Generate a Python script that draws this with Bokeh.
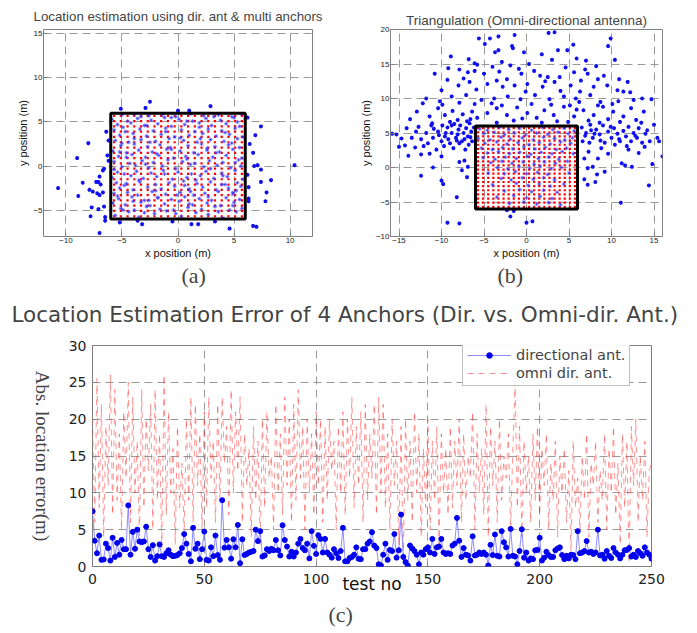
import math
import numpy as np
from bokeh.plotting import figure
from bokeh.layouts import column, row
from bokeh.models import Title, Legend, LegendItem, FixedTicker, Range1d
from bokeh.embed import file_html
from bokeh.resources import INLINE

# ---------------- data ----------------
# true (grid) positions inside the 12 m x 12 m area
grid_vals = [-5.7, -5.1, -4.5, -3.9, -3.3, -2.7, -2.1, -1.5, -0.9, -0.3,
             0.3, 0.9, 1.5, 2.1, 2.7, 3.3, 3.9, 4.5, 5.1, 5.7]
area_x = [-6, 6]
area_y = [-6, 6]

# (a) estimated positions, directional antenna
a_in = [
    (-5.6,-5.6),(-4.4,-5.2),(-3.5,-5.8),(-2.1,-5.4),(-1.0,-5.1),(0.3,-5.7),(1.6,-5.3),(2.7,-5.5),(4.0,-5.9),(5.2,-5.2),
    (-5.1,-4.8),(-3.9,-5.0),(-2.8,-4.6),(-1.6,-4.9),(-0.4,-5.0),(0.9,-4.7),(2.1,-4.9),(3.3,-4.6),(4.6,-5.0),(5.7,-4.8),
    (-5.8,-4.2),(-4.7,-4.4),(-3.3,-4.1),(-2.5,-4.5),(-1.2,-4.3),(0.1,-4.0),(1.3,-4.4),(2.6,-4.2),(3.8,-4.5),(5.0,-4.1),
    (-5.3,-3.7),(-4.1,-3.5),(-3.0,-3.9),(-1.8,-3.6),(-0.6,-3.8),(0.6,-3.5),(1.9,-3.7),(3.0,-3.9),(4.3,-3.6),(5.5,-3.8),
    (-5.7,-3.1),(-4.5,-3.0),(-3.6,-3.3),(-2.3,-2.9),(-1.1,-3.2),(0.2,-3.0),(1.4,-3.3),(2.4,-3.1),(3.6,-2.9),(4.9,-3.2),
    (-5.2,-2.5),(-4.0,-2.7),(-2.7,-2.4),(-1.5,-2.6),(-0.3,-2.3),(1.0,-2.6),(2.2,-2.4),(3.4,-2.7),(4.5,-2.5),(5.6,-2.3),
    (-5.5,-1.9),(-4.6,-2.0),(-3.4,-1.8),(-2.0,-2.1),(-0.8,-1.9),(0.5,-1.7),(1.7,-2.0),(2.9,-1.8),(4.2,-2.1),(5.3,-1.9),
    (-5.9,-1.3),(-4.2,-1.1),(-3.1,-1.4),(-1.9,-1.2),(-0.5,-1.5),(0.8,-1.3),(2.0,-1.1),(3.2,-1.4),(4.4,-1.2),(5.8,-1.5),
    (-5.4,-0.7),(-4.8,-0.9),(-3.7,-0.6),(-2.4,-0.8),(-1.3,-0.5),(0.0,-0.7),(1.2,-0.9),(2.5,-0.6),(3.9,-0.8),(5.1,-0.5),
    (-5.0,-0.1),(-3.8,0.1),(-2.6,-0.2),(-1.4,0.0),(-0.2,-0.3),(1.1,0.2),(2.3,-0.1),(3.5,0.1),(4.7,-0.2),(5.6,0.0),
    (-5.7,0.5),(-4.3,0.3),(-3.2,0.6),(-2.2,0.4),(-0.9,0.7),(0.4,0.5),(1.5,0.3),(2.8,0.6),(4.0,0.4),(5.4,0.7),
    (-5.3,1.1),(-4.1,1.3),(-2.9,1.0),(-1.7,1.2),(-0.4,0.9),(0.7,1.1),(1.8,1.3),(3.1,1.0),(4.3,1.2),(5.7,0.9),
    (-5.8,1.7),(-4.6,1.5),(-3.5,1.8),(-2.3,1.6),(-1.0,1.9),(0.2,1.7),(1.4,1.5),(2.6,1.8),(3.7,1.6),(4.9,1.9),
    (-5.1,2.3),(-3.9,2.5),(-2.7,2.2),(-1.6,2.4),(-0.7,2.1),(0.9,2.3),(2.1,2.5),(3.3,2.2),(4.5,2.4),(5.5,2.1),
    (-5.6,2.9),(-4.4,2.7),(-3.3,3.0),(-2.0,2.8),(-0.8,3.1),(0.5,2.9),(1.7,2.7),(2.9,3.0),(4.1,2.8),(5.3,3.1),
    (-5.2,3.5),(-4.0,3.7),(-2.8,3.4),(-1.5,3.6),(-0.3,3.3),(1.0,3.5),(2.2,3.7),(3.4,3.4),(4.6,3.6),(5.8,3.3),
    (-5.7,4.1),(-4.7,3.9),(-3.4,4.2),(-2.2,4.0),(-1.1,4.3),(0.3,4.1),(1.5,3.9),(2.7,4.2),(3.9,4.0),(5.1,4.3),
    (-5.4,4.7),(-4.2,4.9),(-3.0,4.6),(-1.8,4.8),(-0.6,4.5),(0.6,4.7),(1.9,4.9),(3.0,4.6),(4.3,4.8),(5.5,4.5),
    (-5.9,5.3),(-4.5,5.1),(-3.6,5.4),(-2.4,5.2),(-1.2,5.5),(0.1,5.3),(1.3,5.1),(2.5,5.4),(3.8,5.2),(5.0,5.5),
    (-5.0,5.8),(-3.9,5.9),(-2.6,5.7),(-1.4,5.8),(-0.2,5.6),(1.1,5.9),(2.3,5.7),(3.6,5.8),(4.8,5.6),(5.7,5.9),
    (-4.9,-5.0),(-3.0,-5.3),(-0.2,-5.4),(1.0,-4.3),(3.6,-5.2),(4.9,-4.5),(-5.4,-3.4),(-2.6,-3.9),(-0.1,-3.3),(2.7,-3.5),
    (4.9,-3.0),(-4.0,-4.0),(-4.8,-2.2),(-2.0,-2.8),(0.6,-2.2),(3.9,-2.1),(5.2,-2.8),(-3.5,-1.6),(-1.2,-0.9),(1.6,-1.6),
    (4.0,-1.1),(-5.7,-0.4),(2.9,-0.3),(-2.9,0.2),(-4.6,1.0),(-1.9,1.4),(0.8,0.8),(3.4,1.5),(5.1,0.4),(-0.6,1.9),
    (-5.0,2.6),(-2.5,2.7),(2.6,2.0),(4.8,2.6),(0.2,3.2),(-3.9,3.1),(-1.1,3.9),(1.9,4.4),(4.2,3.8),(-4.9,4.4),
    (-2.8,4.6),(0.8,5.1),(3.2,5.6),(5.3,5.0),(-3.3,5.6),(-0.6,5.5),(2.0,3.1),(-1.8,-3.6),(1.1,-2.9),(-5.2,1.6),
]
a_out = [
    (-2.5,7.3),(-5.1,6.5),(-2.9,6.6),(2.9,6.8),(0.0,6.3),(1.0,6.3),(7.4,4.5),(6.9,3.5),(-8.0,2.6),(-6.2,2.9),
    (-9.0,0.9),(6.7,1.5),(7.1,0.1),(7.4,-0.4),(6.8,0.0),(10.4,0.1),(8.3,-1.6),(7.4,-1.8),(-8.5,-1.9),(-10.7,-2.5),
    (-8.9,-3.4),(-7.9,-2.7),(-7.6,-2.9),(-7.2,-3.1),(-7.0,-3.3),(-6.7,-3.0),(-6.9,-2.1),(-7.1,-1.8),(-7.3,-1.8),(-6.7,-0.5),
    (-6.6,-0.3),(-7.0,-1.2),(7.9,-3.0),(6.3,-2.4),(6.3,-3.7),(6.3,-4.0),(7.8,-4.0),(-7.7,-4.7),(-7.8,-5.7),(-7.1,-4.9),
    (-6.6,-4.6),(-6.5,-5.8),(-7.0,-7.6),(-5.2,-6.4),(-3.6,-6.2),(-3.2,-6.6),(1.2,-6.6),(1.8,-6.6),(4.6,-7.1),(6.7,-6.8),
    (7.0,-6.9),(-6.3,1.2),(-6.4,3.9),(6.2,-1.0),(6.4,2.5),(-6.5,-6.2),(6.2,5.5),(-6.2,0.6),(3.3,-6.3),(-0.5,-6.3),
]

# (b) estimated positions, omni-directional antenna (triangulation)
b_in = [
    (-5.5,5.6),(-4.6,5.4),(-3.2,5.8),(-2.1,5.5),(-0.8,5.7),(0.6,5.4),(1.9,5.8),(3.1,5.5),(4.4,5.7),(5.6,5.3),
    (-5.0,4.9),(-3.8,5.1),(-2.6,4.8),(-1.4,5.0),(-0.1,4.7),(1.2,5.0),(2.5,4.8),(3.7,5.1),(4.9,4.9),(5.9,4.6),
    (-5.7,4.2),(-4.3,4.0),(-3.0,4.4),(-1.9,4.1),(-0.5,4.3),(0.8,4.0),(2.0,4.4),(3.3,4.2),(4.5,4.0),(5.4,4.3),
    (-4.9,3.5),(-3.5,3.7),(-2.3,3.4),(-1.0,3.6),(0.3,3.3),(1.5,3.6),(2.8,3.4),(4.0,3.7),(5.2,3.5),
    (-5.3,2.8),(-4.0,2.6),(-2.8,2.9),(-1.6,2.7),(-0.3,3.0),(1.0,2.7),(2.2,2.9),(3.5,2.6),(4.7,2.8),
    (-4.6,2.1),(-3.3,2.3),(-2.0,2.0),(-0.8,2.2),(0.5,1.9),(1.7,2.2),(3.0,2.0),(4.2,2.3),(5.5,2.0),
    (-5.1,1.4),(-3.7,1.2),(-2.5,1.5),(-1.2,1.3),(0.1,1.6),(1.4,1.3),(2.6,1.5),(3.8,1.2),
    (-4.2,0.7),(-2.9,0.9),(-1.7,0.6),(-0.4,0.8),(0.9,0.5),(2.1,0.8),(3.4,0.6),(4.8,0.9),
    (-3.4,0.0),(-2.2,-0.2),(-0.9,0.1),(0.4,-0.1),(1.6,0.2),(2.9,-0.2),(4.1,0.0),
    (-4.5,-0.8),(-2.6,-0.9),(-1.3,-0.6),(0.0,-0.9),(1.3,-0.7),(2.5,-1.0),(5.0,-0.8),
    (-3.0,-1.6),(-1.8,-1.8),(-0.5,-1.5),(0.8,-1.7),(2.0,-1.5),(3.3,-1.8),
    (-4.0,-2.5),(-1.2,-2.3),(0.2,-2.6),(1.5,-2.4),(2.8,-2.7),(4.4,-2.4),
    (-2.6,-3.4),(-0.8,-3.2),(0.6,-3.5),(2.0,-3.3),(3.6,-3.6),
    (-3.5,-4.3),(-1.5,-4.1),(0.0,-4.4),(1.6,-4.2),(3.0,-4.5),
    (-2.0,-5.2),(-0.3,-5.0),(1.2,-5.3),(2.6,-5.1),(4.0,-5.4),
]
b_out = [
    (-5.6,18.7),(-4.3,18.7),(-3.3,19.0),(-1.4,19.2),(2.6,19.5),(3.3,19.6),(9.9,18.7),(9.6,17.6),(5.5,17.8),(-1.7,17.6),
    (-1.6,17.3),(-4.9,17.9),(-3.7,16.7),(-3.3,17.0),(-0.3,16.7),(1.8,16.4),(3.7,17.0),(4.8,17.0),(5.9,15.8),(7.0,15.5),
    (10.4,15.6),(-8.9,16.1),(-6.8,15.7),(-6.1,15.1),(-5.8,14.9),(0.3,15.0),
    (-10.8,13.6),(-9.2,14.4),(-7.9,14.2),(-6.9,13.8),(-6.1,14.0),(-5.0,13.6),(-3.2,13.9),(-2.3,12.8),(-0.6,13.6),(0.9,14.0),
    (2.5,13.1),(3.9,13.1),(5.6,13.8),(7.2,13.6),(9.1,13.3),(10.9,12.8),(11.4,11.0),(10.7,11.2),(-10.0,11.2),(-8.0,11.9),
    (-6.7,12.4),(-4.6,12.1),(-2.8,11.7),(-1.4,11.9),(0.1,12.1),(1.9,11.7),(3.3,12.4),(5.2,11.9),(6.4,12.6),(7.9,11.7),
    (9.5,11.9),(-11.8,10.0),(-10.2,9.6),(-8.8,10.3),(-7.1,10.5),(-5.3,9.8),(-3.8,10.0),(-2.2,10.3),(-0.7,9.9),(1.0,10.5),
    (2.7,9.9),(4.4,10.3),(5.8,10.0),(7.5,10.5),(8.7,9.5),(10.1,9.2),(12.6,9.8),(13.6,10.0),(14.7,9.9),
    (-4.0,14.6),(-1.9,14.8),(1.6,13.3),(4.6,14.5),(6.9,14.2),(-7.4,12.9),(-3.5,12.6),(-0.1,11.0),(2.2,12.5),(8.4,12.8),
    (-9.3,12.7),(-5.9,11.3),(4.0,11.1),(6.3,11.0),(12.2,10.9),(11.9,12.4),(-2.9,15.3),(3.0,15.6),(-0.9,14.3),(8.2,14.7),
    (-12.9,8.1),(-12.2,9.3),(-11.4,7.4),(-10.4,8.6),(-9.6,7.6),(-8.7,8.2),(-8.1,6.9),(-7.5,7.7),(-7.0,6.7),(-6.4,8.1),
    (-5.8,7.2),(-4.6,7.9),(-3.5,8.6),(-2.3,7.6),(-1.1,8.7),(0.1,7.9),(1.2,7.2),(2.1,8.3),(3.2,7.6),(4.4,8.8),
    (5.6,7.4),(6.7,8.3),(7.9,7.6),(9.0,8.8),(10.2,8.1),(11.4,7.4),(12.3,8.6),(12.9,6.9),(7.3,6.8),(3.6,6.7),
    (-3.5,6.5),(-1.5,6.8),
    (-9.9,9.1),(-7.9,9.4),(-6.1,9.2),(-4.1,9.3),(-2.9,9.0),(0.6,9.2),(2.9,9.1),(5.1,9.0),(6.2,9.5),(8.4,9.0),
    (9.6,7.0),(10.8,9.6),(13.8,8.1),(-13.7,7.0),(-11.1,6.4),(-9.0,6.6),(-6.6,7.0),(-0.5,7.1),(1.8,6.5),(4.9,6.6),
    (5.9,8.4),(8.6,6.5),(11.0,6.6),(13.5,6.5),
    (-15.8,4.9),(-15.3,4.8),(-14.7,4.2),(-14.1,5.7),(-13.5,4.3),(-13.1,2.9),(-12.4,4.1),(-11.8,5.0),(-11.6,3.5),(-11.0,4.3),
    (-10.6,2.6),(-10.4,5.2),(-10.0,3.8),(-9.6,4.5),(-9.3,5.8),(-9.0,3.5),(-8.8,5.0),(-8.5,6.3),(-8.3,4.3),(-8.0,5.5),
    (-7.8,6.1),(-7.6,3.8),(-7.4,5.0),(-7.1,5.7),(-6.9,4.5),(-6.7,6.4),(-6.5,5.2),(-6.4,3.8),(-6.2,5.8),(-12.4,1.9),
    (-11.4,2.0),(-13.9,1.7),(-14.3,3.2),(-8.8,6.1),(-9.5,5.0),(-9.9,6.1),(-11.2,6.1),(-12.7,5.9),(-8.1,4.8),(-7.3,4.1),
    (-6.6,4.4),(-7.9,3.5),(-8.6,2.8),
    (-10.9,5.6),(-9.7,3.1),(-8.2,3.9),(-7.2,2.6),(-12.1,3.1),(-13.0,5.2),(-15.0,3.0),(-9.2,4.1),(-6.8,3.3),(-10.3,4.7),
    (6.5,5.8),(7.0,5.0),(7.5,6.2),(7.8,4.3),(8.2,5.5),(8.6,4.8),(9.0,6.1),(9.2,3.6),(9.6,5.2),(10.0,4.3),
    (10.3,5.7),(10.7,4.9),(11.0,3.8),(11.4,5.3),(11.7,4.5),(12.0,5.9),(12.3,3.8),(12.6,5.0),(13.0,4.3),(13.2,5.7),
    (13.6,3.6),(14.0,4.9),(14.5,3.8),(15.0,6.2),(15.4,4.3),(15.6,3.8),(16.0,1.6),(14.8,0.5),(14.4,-2.6),(11.2,0.6),
    (11.6,0.3),(12.4,0.1),(9.6,2.0),(7.3,2.3),(8.4,1.3),(7.8,0.1),(6.8,-1.7),(7.2,-2.5),(8.1,-2.1),(8.3,-1.0),
    (11.1,-5.1),(8.8,2.8),(12.0,2.6),(13.2,2.1),(10.4,3.3),(7.4,3.6),(6.6,3.8),(6.8,1.3),(7.2,-0.1),(9.2,-0.6),
    (8.0,4.9),(9.9,5.9),(10.9,4.1),(12.8,4.6),(6.9,4.6),(8.7,3.9),(14.2,5.4),(11.8,3.1),(7.6,5.4),(13.9,3.0),
    (-11.0,0.0),(-12.4,-1.2),(-10.0,1.6),(-7.9,0.8),(-7.3,1.0),(-6.9,0.1),(-7.6,-0.4),(-7.0,-1.4),(-10.0,-1.9),(-9.8,-2.4),
    (-8.2,-4.3),(-9.3,-8.0),(-7.9,-8.1),(-1.9,-7.1),(0.0,-8.0),(0.7,-7.8),(-2.3,-6.2),(-1.5,-6.3),
]

# (c) absolute location error per test
test_no = list(range(251))
dir_err = [
    7.5, 3.5, 1.8, 4.2, 0.9, 0.95, 3.1, 2.5, 0.8, 3.9,
    1.3, 3.2, 1.6, 3.6, 2.35, 2.35, 8.3, 1.6, 4.7, 2.4,
    5.0, 3.4, 3.3, 3.4, 5.4, 2.35, 1.3, 2.9, 0.8, 1.4,
    3.0, 1.4, 1.3, 1.8, 2.2, 1.6, 1.4, 1.45, 1.55, 1.8,
    2.5, 4.4, 3.1, 1.7, 0.7, 5.25, 2.4, 3.1, 1.0, 2.35,
    4.75, 0.9, 0.8, 2.6, 1.4, 4.2, 1.55, 0.9, 9.0, 2.55,
    3.6, 2.6, 1.05, 3.7, 2.6, 5.65, 0.45, 3.7, 1.55, 1.7,
    1.9, 2.0, 2.1, 5.0, 3.45, 4.8, 1.35, 1.5, 2.35, 2.1,
    2.4, 2.2,
    3.6, 2.2, 1.5, 5.6, 3.6, 2.7, 1.35, 2.0, 1.35, 1.9,
    3.1, 3.75, 2.5, 2.2, 3.1, 1.1, 4.8, 2.8, 1.7, 4.25,
    3.75, 1.9, 3.75, 1.9, 1.6, 1.2, 2.35, 1.8, 1.15,
    2.1, 5.25, 0.7, 0.7, 1.15, 1.3, 1.6, 2.6, 1.05, 1.0,
    2.35, 2.35, 3.1, 3.4, 4.65, 2.85, 2.5, 0.3, 0.15, 1.6,
    3.1, 0.9, 2.25, 2.1, 4.4, 1.2, 2.2, 7.05, 1.3, 0.6,
    0.15, 2.85, 2.45, 2.1, 1.6, 0.3, 1.9, 1.6, 2.35,
    2.6, 1.9, 3.75, 1.7, 2.6, 2.7, 3.75, 1.9, 1.7, 1.8,
    1.7, 2.85, 3.1, 6.6, 3.5, 1.3,
    2.5, 1.6, 1.5, 0.8, 4.1, 1.5, 1.6, 1.9, 1.7, 1.9,
    1.6, 0.15, 2.95, 1.55, 4.35, 1.45, 1.35, 4.8, 3.3, 2.6,
    1.35, 5.1, 1.45, 1.35, 0.3, 2.1, 5.05, 1.2, 1.9, 0.8,
    1.1, 1.0, 2.2, 2.25, 3.9, 0.8, 1.2, 2.0, 1.55, 1.3,
    1.3, 2.2, 2.45, 2.6, 1.55, 1.0, 1.45, 1.1, 1.6, 1.55,
    1.0, 4.8, 1.8, 1.9, 2.1, 3.45, 1.9, 2.0, 1.7, 1.9,
    5.0, 1.5, 1.6, 1.05, 2.1, 1.45, 1.15, 2.5, 1.9, 1.6,
    1.1, 1.6, 2.2, 2.25, 2.5, 1.35, 1.6, 1.3, 2.1, 1.8,
    1.45, 2.6, 1.9, 1.6, 1.05,
]
omni_err = [
    20, 6, 25.5, 8, 22, 4, 19, 11, 26, 7,
    24, 9, 18, 5, 21, 12, 25, 6, 23, 10,
    17, 4, 24, 8, 20, 13, 22, 5, 24, 9,
    18, 2.5, 26, 7, 21, 10, 16, 3, 19, 8,
    14, 4.5, 20, 9, 23, 6, 22, 11, 18, 5,
    21, 8, 23, 12, 17, 6, 22, 9, 23, 14,
    19, 7, 24, 10, 21, 13, 23, 6, 18, 11,
    16, 4, 19, 9, 17, 3, 20, 8, 21, 12,
    15, 5, 22, 10, 18, 7, 23, 11, 20, 6,
    22, 9, 24, 12, 19, 5, 20, 10, 18, 7,
    21, 11, 20, 6, 19, 9, 20, 13, 17, 5,
    19, 10, 21, 7, 20, 12, 23, 8, 19, 11,
    21, 6, 22, 9, 18, 12, 22, 7, 23, 10,
    22, 8, 18, 5, 20, 11, 17, 3, 19, 0.5,
    20, 9, 17, 6, 21, 10, 18, 4, 16, 8,
    20, 5, 17, 9, 19, 3, 18, 10, 16, 7,
    19, 8, 17, 11, 20, 6, 18, 9, 15, 12,
    21, 5, 18, 10, 16, 7, 22, 4, 19, 11,
    17, 6, 20, 9, 15, 12, 18, 5, 16, 25,
    8, 19, 4, 17, 10, 15, 6, 18, 9, 19,
    7, 16, 11, 18, 5, 14, 9, 17, 4, 15,
    10, 16, 6, 13, 2, 17, 8, 12, 5, 15,
    9, 18, 4, 14, 11, 17, 6, 13, 9, 18,
    5, 16, 10, 19, 7, 14, 3, 18, 8, 17,
    0.5, 19, 11, 20, 6, 15, 9, 17, 4, 13,
    14,
]

a_xticks = [-10, -5, 0, 5, 10]
a_yticks = [-5, 0, 5, 10, 15]
b_xticks = [-15, -10, -5, 0, 5, 10, 15]
b_yticks = [-10, -5, 0, 5, 10, 15, 20]
c_xticks = [0, 50, 100, 150, 200, 250]
c_yticks = [0, 5, 10, 15, 20, 25, 30]

GRID = "#9a9a9a"
FRAME = "#808080"


def style(p, tick_font, tick_size, lab_font, lab_size):
    p.background_fill_color = "white"
    p.border_fill_color = "white"
    p.outline_line_color = FRAME
    p.outline_line_width = 1
    p.axis.axis_line_color = None
    p.axis.major_tick_in = 4
    p.axis.major_tick_out = 0
    p.axis.major_tick_line_color = FRAME
    p.axis.minor_tick_line_color = None
    p.axis.major_label_text_font = tick_font
    p.axis.major_label_text_font_size = tick_size
    p.axis.major_label_text_color = "#222222"
    p.axis.axis_label_text_font = lab_font
    p.axis.axis_label_text_font_size = lab_size
    p.axis.axis_label_text_font_style = "normal"
    p.axis.axis_label_text_color = "#111111"
    p.grid.grid_line_color = GRID
    p.grid.grid_line_dash = "8 5"
    p.grid.grid_line_width = 1


def scatter_panel(p, inside, outside, xr_box, yr_box):
    gx, gy = np.meshgrid(grid_vals, grid_vals)
    p.scatter(gx.ravel(), gy.ravel(), marker="square", size=2.2, color="#ff0000", line_width=0)
    p.scatter([q[0] for q in inside], [q[1] for q in inside], marker="asterisk", size=4,
              line_color="#3b3bff", line_width=1, alpha=0.7)
    p.scatter([q[0] for q in outside], [q[1] for q in outside], marker="asterisk", size=4,
              line_color="#1010ee", line_width=1.2)
    p.quad(left=xr_box[0], right=xr_box[1], bottom=yr_box[0], top=yr_box[1],
           fill_color=None, line_color="black", line_width=3)


def panel_label(p, text, offset):
    p.add_layout(Title(text=text, align="left", offset=offset, vertical_align="top", standoff=2,
                       text_font="Liberation Serif", text_font_size="22px",
                       text_font_style="normal"), "below")


def blank_fig(width, height, **borders):
    f = figure(width=width, height=height, output_backend="svg", toolbar_location=None,
               x_axis_type=None, y_axis_type=None, title=None, **borders)
    f.outline_line_color = None
    f.background_fill_color = "white"
    f.border_fill_color = "white"
    return f


# ---------------- (a) ----------------
pa = figure(width=345, height=300, x_range=Range1d(-12, 12), y_range=Range1d(-8, 15.5),
            output_backend="svg", toolbar_location=None,
            min_border_left=43, min_border_right=33, min_border_top=29, min_border_bottom=64,
            title="Location estimation using dir. ant & multi anchors")
style(pa, "Liberation Sans", "8px", "Liberation Sans", "11px")
pa.xaxis.ticker = FixedTicker(ticks=a_xticks)
pa.yaxis.ticker = FixedTicker(ticks=a_yticks)
pa.xaxis.axis_label = "x position (m)"
pa.yaxis.axis_label = "y position (m)"
pa.axis.major_label_standoff = 1
pa.axis.axis_label_standoff = 1
pa.title.align = "center"
pa.title.text_font = "Liberation Sans"
pa.title.text_font_size = "13.3px"
pa.title.text_font_style = "normal"
pa.title.standoff = 11
scatter_panel(pa, a_in, a_out, area_x, area_y)
panel_label(pa, "(a)", 138)

# ---------------- (b) ----------------
pb = figure(width=352, height=300, x_range=Range1d(-16, 16), y_range=Range1d(-10, 20),
            output_backend="svg", toolbar_location=None,
            min_border_left=45, min_border_right=35, min_border_top=25, min_border_bottom=63,
            title="Triangulation (Omni-directional antenna)")
style(pb, "Liberation Sans", "8px", "Liberation Sans", "11px")
pb.xaxis.ticker = FixedTicker(ticks=b_xticks)
pb.yaxis.ticker = FixedTicker(ticks=b_yticks)
pb.xaxis.axis_label = "x position (m)"
pb.yaxis.axis_label = "y position (m)"
pb.axis.major_label_standoff = 1
pb.axis.axis_label_standoff = 1
pb.title.align = "center"
pb.title.text_font = "Liberation Sans"
pb.title.text_font_size = "13.5px"
pb.title.text_font_style = "normal"
pb.title.standoff = 4
scatter_panel(pb, b_in, b_out, area_x, area_y)
panel_label(pb, "(b)", 107)

# ---------------- (c) title strip ----------------
ptitle = blank_fig(697, 35, min_border_left=0, min_border_right=0,
                   min_border_top=0, min_border_bottom=0)
ptitle.add_layout(Title(text="Location Estimation Error of 4 Anchors (Dir. vs. Omni-dir. Ant.)",
                        align="left", offset=11, vertical_align="middle", standoff=0,
                        text_font="DejaVu Sans", text_font_size="21.5px",
                        text_font_style="normal"), "above")

# ---------------- (c) y-axis label strip ----------------
pylab = blank_fig(60, 298, min_border_left=0, min_border_right=30,
                  min_border_top=0, min_border_bottom=38)
pylab.add_layout(Title(text="Abs. location error(m)", align="center", vertical_align="middle",
                       standoff=0, text_font="Liberation Serif", text_font_size="19px",
                       text_font_style="normal"), "right")

# ---------------- (c) ----------------
pc = figure(width=637, height=298, x_range=Range1d(0, 250), y_range=Range1d(0, 30),
            output_backend="svg", toolbar_location=None, title=None,
            min_border_left=32, min_border_right=46, min_border_top=10, min_border_bottom=67)
style(pc, "DejaVu Sans", "14px", "DejaVu Sans", "17px")
pc.xaxis.ticker = FixedTicker(ticks=c_xticks)
pc.yaxis.ticker = FixedTicker(ticks=c_yticks)
pc.xaxis.axis_label = "test no"
pc.xaxis.axis_label_standoff = -13
pc.xaxis.major_label_standoff = 7
pc.yaxis.major_label_standoff = 6

rl = pc.line(test_no, omni_err, color="#ff3030", line_dash="6 5", line_width=0.7, alpha=0.75)
bl = pc.line(test_no, dir_err, color="#7070ff", line_width=0.8)
bs = pc.scatter(test_no, dir_err, size=5, color="#0000ee")

legend = Legend(items=[LegendItem(label="directional ant.", renderers=[bl, bs]),
                       LegendItem(label="omni dir. ant.", renderers=[rl])],
                location=(370, 180))
legend.label_text_font = "DejaVu Sans"
legend.label_text_font_size = "14.5px"
legend.glyph_width = 44
legend.glyph_height = 14
legend.label_height = 14
legend.label_standoff = 5
legend.spacing = 2
legend.padding = 4
legend.margin = 0
legend.border_line_color = FRAME
legend.background_fill_color = "white"
pc.add_layout(legend, "center")
pc.add_layout(Title(text="(c)", align="left", offset=236, vertical_align="top", standoff=10,
                    text_font="Liberation Serif", text_font_size="22px",
                    text_font_style="normal"), "below")

layout = column(row(pa, pb), ptitle, row(pylab, pc))
open("out.html", "w").write(file_html(layout, INLINE))
